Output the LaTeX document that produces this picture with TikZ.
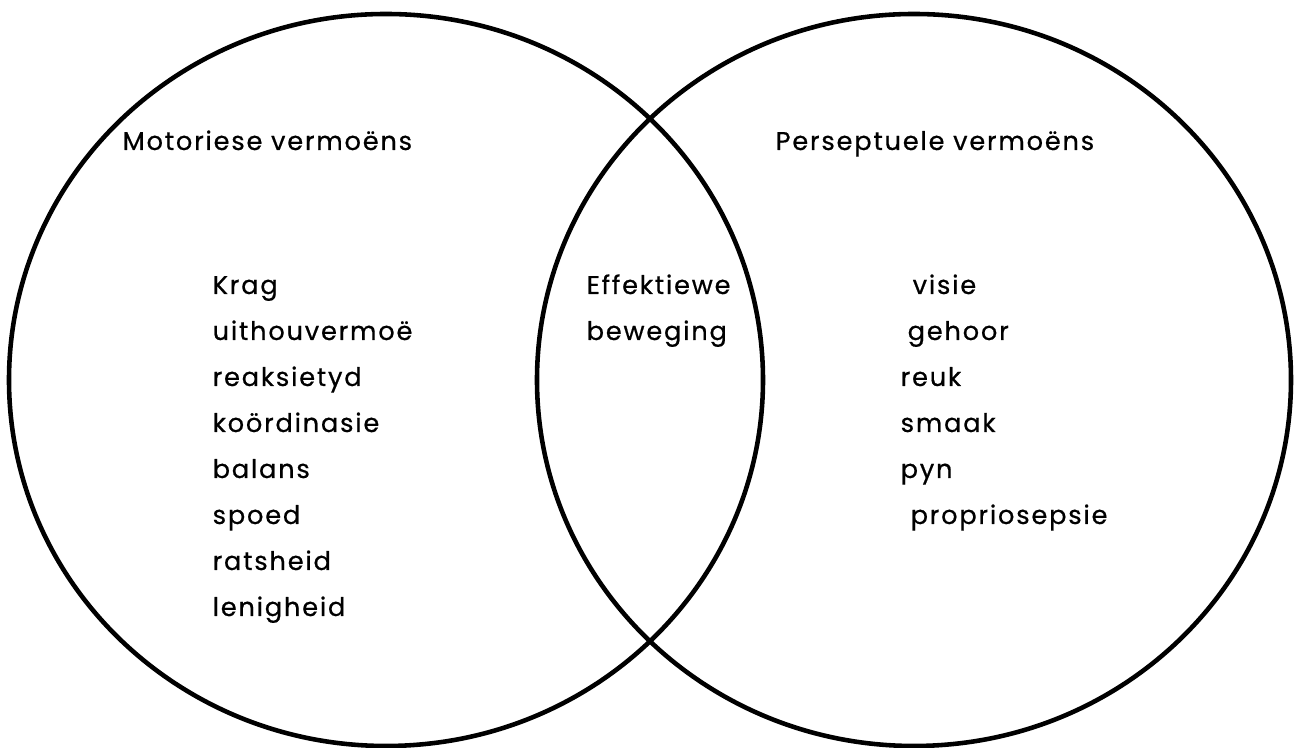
\documentclass[tikz,border=0pt]{standalone}
\usepackage{fontspec}
\setmainfont{Poppins}[LetterSpace=7, FakeBold=0.6]
\usetikzlibrary{shapes.geometric}

\tikzset{
  ring/.style={draw, line width=1.3pt, ellipse, minimum width=7.54cm, minimum height=7.32cm},
  label/.style={anchor=base west, inner sep=0pt, font=\fontsize{7.3}{9}\selectfont},
}

\begin{document}
\begin{tikzpicture}

\useasboundingbox (0,0) rectangle (12.98,7.48);

% Circles
\node[ring] (motor) at (3.86,3.68) {};
\node[ring] (persep) at (9.14,3.68) {};

% Headings
\node[label] (motorhead) at (1.22,5.98) {Motoriese vermoëns};
\node[label] (persephead) at (7.75,5.98) {Perseptuele vermoëns};

% Motor abilities
\foreach \w [count=\i] in {Krag, uithouvermoë, reaksietyd, koördinasie, balans, spoed, ratsheid, lenigheid}
    \node[label] (m\i) at (2.12,{4.54-0.46*(\i-1)}) {\w};

% Overlap
\node[label] (eff1) at (5.86,4.54) {Effektiewe};
\node[label] (eff2) at (5.86,4.08) {beweging};

% Perceptual abilities
\node[label] (p1) at (9.12,4.54) {visie};
\node[label] (p2) at (9.07,4.08) {gehoor};
\node[label] (p3) at (9.00,3.62) {reuk};
\node[label] (p4) at (9.00,3.16) {smaak};
\node[label] (p5) at (9.00,2.70) {pyn};
\node[label] (p6) at (9.10,2.24) {propriosepsie};

\end{tikzpicture}
\end{document}
